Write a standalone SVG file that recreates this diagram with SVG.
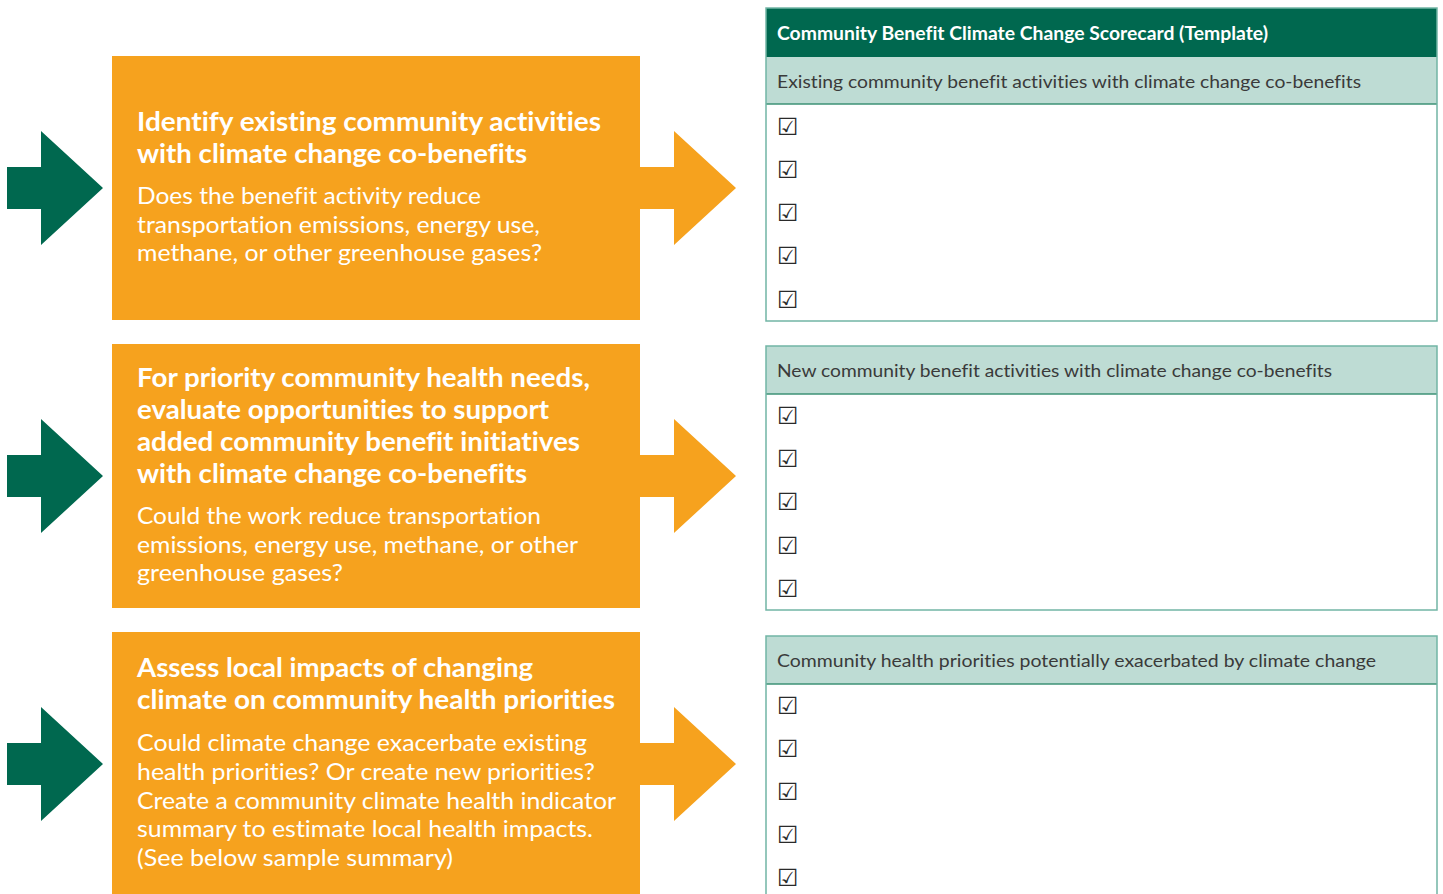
<svg xmlns="http://www.w3.org/2000/svg" width="1443" height="894" viewBox="0 0 1443 894">
  <style>
    text { font-variant-ligatures: none; font-feature-settings: "liga" 0; }
    .step { fill: #F6A21E; }
    .arrow-in { fill: #00684F; }
    .arrow-out { fill: #F6A21E; }
    .title { font-family: Lato, "Noto Sans", sans-serif; font-weight: 700; font-size: 27px; fill: #FFFFFF; }
    .body { font-family: Lato, "Noto Sans", sans-serif; font-weight: 400; font-size: 24px; fill: #FFFFFF; }
    .card-head { fill: #00684F; }
    .card-sub { fill: #BEDCD4; }
    .card-frame { fill: none; stroke: #72B5A5; stroke-width: 1.5; }
    .card-rule { stroke: #3C9276; stroke-width: 1.5; }
    .head-text { font-family: Lato, "Noto Sans", sans-serif; font-weight: 700; font-size: 18px; fill: #FFFFFF; }
    .sub-text { font-family: Lato, "Noto Sans", sans-serif; font-weight: 400; font-size: 18px; fill: #3A3A3A; }
    .check { font-family: "DejaVu Sans", sans-serif; font-size: 24px; fill: #2A2A2A; }
  </style>
  <defs>
    <!-- block arrow, tail at x=0, centred vertically on y=0 -->
    <path id="blockArrow" d="M0,-21 H34 V-57 L96,0 L34,57 V21 H0 Z"/>
  </defs>

  <rect width="1443" height="894" fill="#FFFFFF"/>

  <!-- connectors: arrows feeding each step and leading to the scorecard -->
  <g id="connectors">
    <use href="#blockArrow" class="arrow-in" x="7" y="188"/>
    <use href="#blockArrow" class="arrow-in" x="7" y="476"/>
    <use href="#blockArrow" class="arrow-in" x="7" y="764"/>
    <use href="#blockArrow" class="arrow-out" x="640" y="188"/>
    <use href="#blockArrow" class="arrow-out" x="640" y="476"/>
    <use href="#blockArrow" class="arrow-out" x="640" y="764"/>
  </g>

  <!-- step 1 -->
  <g id="step-identify">
    <rect class="step" x="112" y="56" width="528" height="264"/>
    <text class="title" x="137" y="131" textLength="464" lengthAdjust="spacingAndGlyphs">Identify existing community activities</text>
    <text class="title" x="137" y="163" textLength="390" lengthAdjust="spacingAndGlyphs">with climate change co-benefits</text>
    <text class="body" x="137" y="204" textLength="344" lengthAdjust="spacingAndGlyphs">Does the benefit activity reduce</text>
    <text class="body" x="137" y="233" textLength="403" lengthAdjust="spacingAndGlyphs">transportation emissions, energy use,</text>
    <text class="body" x="137" y="261" textLength="405" lengthAdjust="spacingAndGlyphs">methane, or other greenhouse gases?</text>
  </g>

  <!-- step 2 -->
  <g id="step-evaluate">
    <rect class="step" x="112" y="344" width="528" height="264"/>
    <text class="title" x="137" y="387" textLength="453" lengthAdjust="spacingAndGlyphs">For priority community health needs,</text>
    <text class="title" x="137" y="419" textLength="412" lengthAdjust="spacingAndGlyphs">evaluate opportunities to support</text>
    <text class="title" x="137" y="451" textLength="443" lengthAdjust="spacingAndGlyphs">added community benefit initiatives</text>
    <text class="title" x="137" y="483" textLength="390" lengthAdjust="spacingAndGlyphs">with climate change co-benefits</text>
    <text class="body" x="137" y="524" textLength="404" lengthAdjust="spacingAndGlyphs">Could the work reduce transportation</text>
    <text class="body" x="137" y="553" textLength="441" lengthAdjust="spacingAndGlyphs">emissions, energy use, methane, or other</text>
    <text class="body" x="137" y="581" textLength="206" lengthAdjust="spacingAndGlyphs">greenhouse gases?</text>
  </g>

  <!-- step 3 -->
  <g id="step-assess">
    <rect class="step" x="112" y="632" width="528" height="262"/>
    <text class="title" x="137" y="677" textLength="396" lengthAdjust="spacingAndGlyphs">Assess local impacts of changing</text>
    <text class="title" x="137" y="709" textLength="478" lengthAdjust="spacingAndGlyphs">climate on community health priorities</text>
    <text class="body" x="137" y="751" textLength="450" lengthAdjust="spacingAndGlyphs">Could climate change exacerbate existing</text>
    <text class="body" x="137" y="780" textLength="458" lengthAdjust="spacingAndGlyphs">health priorities? Or create new priorities?</text>
    <text class="body" x="137" y="809" textLength="479" lengthAdjust="spacingAndGlyphs">Create a community climate health indicator</text>
    <text class="body" x="137" y="837" textLength="456" lengthAdjust="spacingAndGlyphs">summary to estimate local health impacts.</text>
    <text class="body" x="137" y="866" textLength="316" lengthAdjust="spacingAndGlyphs">(See below sample summary)</text>
  </g>

  <!-- scorecard section 1 -->
  <g id="card-existing">
    <rect class="card-head" x="766" y="8" width="671" height="49"/>
    <text class="head-text" x="777" y="40" textLength="491" lengthAdjust="spacingAndGlyphs">Community Benefit Climate Change Scorecard (Template)</text>
    <rect class="card-sub" x="766" y="57" width="671" height="47"/>
    <text class="sub-text" x="777" y="88" textLength="584" lengthAdjust="spacingAndGlyphs">Existing community benefit activities with climate change co-benefits</text>
    <line class="card-rule" x1="766" y1="104" x2="1437" y2="104"/>
    <rect class="card-frame" x="766" y="8" width="671" height="313"/>
    <text class="check" x="777" y="135">☑</text>
    <text class="check" x="777" y="178">☑</text>
    <text class="check" x="777" y="221">☑</text>
    <text class="check" x="777" y="264">☑</text>
    <text class="check" x="777" y="308">☑</text>
  </g>

  <!-- scorecard section 2 -->
  <g id="card-new">
    <rect class="card-sub" x="766" y="346" width="671" height="48"/>
    <text class="sub-text" x="777" y="377" textLength="555" lengthAdjust="spacingAndGlyphs">New community benefit activities with climate change co-benefits</text>
    <line class="card-rule" x1="766" y1="394" x2="1437" y2="394"/>
    <rect class="card-frame" x="766" y="346" width="671" height="264"/>
    <text class="check" x="777" y="424">☑</text>
    <text class="check" x="777" y="467">☑</text>
    <text class="check" x="777" y="510">☑</text>
    <text class="check" x="777" y="554">☑</text>
    <text class="check" x="777" y="597">☑</text>
  </g>

  <!-- scorecard section 3 -->
  <g id="card-priorities">
    <rect class="card-sub" x="766" y="636" width="671" height="48"/>
    <text class="sub-text" x="777" y="667" textLength="599" lengthAdjust="spacingAndGlyphs">Community health priorities potentially exacerbated by climate change</text>
    <line class="card-rule" x1="766" y1="684" x2="1437" y2="684"/>
    <path class="card-frame" d="M766,900 V636 H1437 V900"/>
    <text class="check" x="777" y="714">☑</text>
    <text class="check" x="777" y="757">☑</text>
    <text class="check" x="777" y="800">☑</text>
    <text class="check" x="777" y="843">☑</text>
    <text class="check" x="777" y="886">☑</text>
  </g>
</svg>
